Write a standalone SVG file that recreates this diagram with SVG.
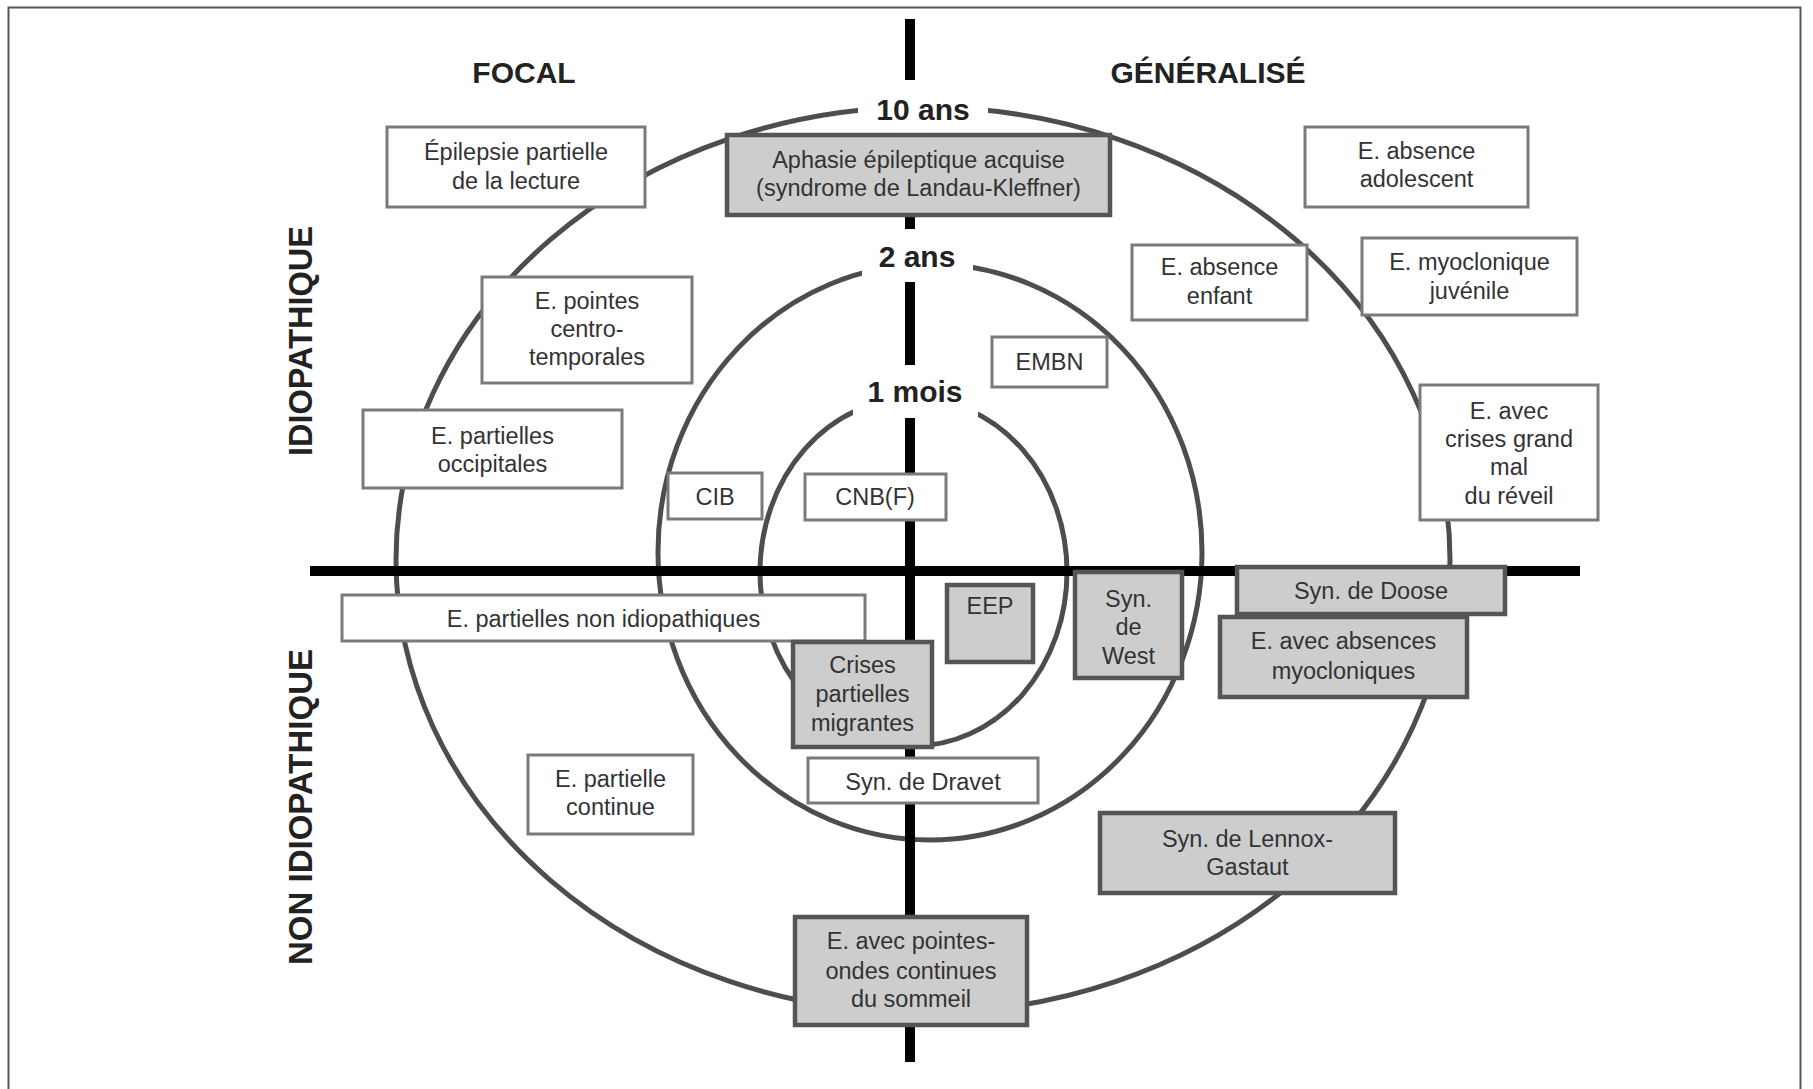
<svg xmlns="http://www.w3.org/2000/svg" width="1813" height="1089" viewBox="0 0 1813 1089">
<style>
.ring{fill:none;stroke:#4d4d4d;stroke-width:5}
.axis{stroke:#000;stroke-width:10}
.wb{fill:#fff;stroke:#7a7a7a;stroke-width:3}
.gb{fill:#cdcdcd;stroke:#555;stroke-width:4.5}
.t{font-family:"Liberation Sans",Arial,sans-serif;font-size:23.5px;fill:#333;text-anchor:middle}
.h{font-family:"Liberation Sans",Arial,sans-serif;font-weight:bold;fill:#222;text-anchor:middle}
.bg{fill:#fff}
</style>
<rect x="8.5" y="7.5" width="1792" height="1100" fill="#fff" stroke="#555" stroke-width="2"/>

<g id="headings">
<text class="h" x="524" y="83" font-size="30">FOCAL</text>
<text class="h" x="1208" y="83" font-size="30">GÉNÉRALISÉ</text>
<text class="h" font-size="32.5" transform="translate(312,341) rotate(-90)">IDIOPATHIQUE</text>
<text class="h" font-size="33" transform="translate(312,807) rotate(-90)">NON IDIOPATHIQUE</text>
</g>

<g id="connectors">
<ellipse class="ring" cx="923" cy="560" rx="527" ry="453"/>
<ellipse class="ring" cx="930" cy="552" rx="272" ry="288"/>
<ellipse class="ring" cx="913.5" cy="572" rx="153.5" ry="174"/>
<line class="axis" x1="910" y1="19" x2="910" y2="1062"/>
<line class="axis" x1="310" y1="571" x2="1580" y2="571"/>
<rect class="bg" x="858" y="80" width="130" height="53"/>
<rect class="bg" x="862" y="229" width="111" height="53"/>
<rect class="bg" x="853" y="365" width="125" height="53"/>
<text class="h" x="923" y="120" font-size="30">10 ans</text>
<text class="h" x="917" y="267" font-size="30">2 ans</text>
<text class="h" x="915" y="402" font-size="30">1 mois</text>
</g>

<g id="n-lecture"><rect class="wb" x="387" y="127" width="258" height="80"/>
<text class="t" x="516" y="160">Épilepsie partielle</text><text class="t" x="516" y="189">de la lecture</text></g>
<g id="n-centro"><rect class="wb" x="482" y="277" width="210" height="106"/>
<text class="t" x="587" y="309">E. pointes</text><text class="t" x="587" y="337">centro-</text><text class="t" x="587" y="365">temporales</text></g>
<g id="n-occip"><rect class="wb" x="363" y="410" width="259" height="78"/>
<text class="t" x="492.5" y="444">E. partielles</text><text class="t" x="492.5" y="472">occipitales</text></g>
<g id="n-cib"><rect class="wb" x="668" y="473" width="94" height="46"/>
<text class="t" x="715" y="505">CIB</text></g>
<g id="n-cnb"><rect class="wb" x="805" y="474" width="141" height="46"/>
<text class="t" x="875" y="505">CNB(F)</text></g>
<g id="n-embn"><rect class="wb" x="992" y="337" width="115" height="50"/>
<text class="t" x="1049.5" y="370">EMBN</text></g>
<g id="n-adolescent"><rect class="wb" x="1305" y="127" width="223" height="80"/>
<text class="t" x="1416.5" y="159">E. absence</text><text class="t" x="1416.5" y="187">adolescent</text></g>
<g id="n-enfant"><rect class="wb" x="1132" y="245" width="175" height="75"/>
<text class="t" x="1219.5" y="275">E. absence</text><text class="t" x="1219.5" y="304">enfant</text></g>
<g id="n-myoclonique"><rect class="wb" x="1362" y="238" width="215" height="77"/>
<text class="t" x="1469.5" y="270">E. myoclonique</text><text class="t" x="1469.5" y="299">juvénile</text></g>
<g id="n-grandmal"><rect class="wb" x="1420" y="385" width="178" height="135"/>
<text class="t" x="1509" y="419">E. avec</text><text class="t" x="1509" y="447">crises grand</text><text class="t" x="1509" y="475">mal</text><text class="t" x="1509" y="504">du réveil</text></g>
<g id="n-nonidio"><rect class="wb" x="342" y="595" width="523" height="46"/>
<text class="t" x="603.5" y="627">E. partielles non idiopathiques</text></g>
<g id="n-continue"><rect class="wb" x="528" y="755" width="165" height="79"/>
<text class="t" x="610.5" y="787">E. partielle</text><text class="t" x="610.5" y="815">continue</text></g>
<g id="n-dravet"><rect class="wb" x="808" y="758" width="230" height="45"/>
<text class="t" x="923" y="790">Syn. de Dravet</text></g>

<g id="n-aphasie"><rect class="gb" x="727" y="135" width="383" height="80"/>
<text class="t" x="918.5" y="168">Aphasie épileptique acquise</text><text class="t" x="918.5" y="196">(syndrome de Landau-Kleffner)</text></g>
<g id="n-eep"><rect class="gb" x="947" y="585" width="86" height="77"/>
<text class="t" x="990" y="614">EEP</text></g>
<g id="n-west"><rect class="gb" x="1075" y="572" width="107" height="106"/>
<text class="t" x="1128.5" y="607">Syn.</text><text class="t" x="1128.5" y="635">de</text><text class="t" x="1128.5" y="664">West</text></g>
<g id="n-crises"><rect class="gb" x="793" y="642" width="139" height="105"/>
<text class="t" x="862.5" y="673">Crises</text><text class="t" x="862.5" y="702">partielles</text><text class="t" x="862.5" y="731">migrantes</text></g>
<g id="n-doose"><rect class="gb" x="1237" y="567" width="268" height="47"/>
<text class="t" x="1371" y="599">Syn. de Doose</text></g>
<g id="n-absences"><rect class="gb" x="1220" y="617" width="247" height="80"/>
<text class="t" x="1343.5" y="649">E. avec absences</text><text class="t" x="1343.5" y="679">myocloniques</text></g>
<g id="n-lennox"><rect class="gb" x="1100" y="813" width="295" height="80"/>
<text class="t" x="1247.5" y="847">Syn. de Lennox-</text><text class="t" x="1247.5" y="875">Gastaut</text></g>
<g id="n-pointes"><rect class="gb" x="795" y="917" width="232" height="108"/>
<text class="t" x="911" y="949">E. avec pointes-</text><text class="t" x="911" y="979">ondes continues</text><text class="t" x="911" y="1007">du sommeil</text></g>
</svg>
